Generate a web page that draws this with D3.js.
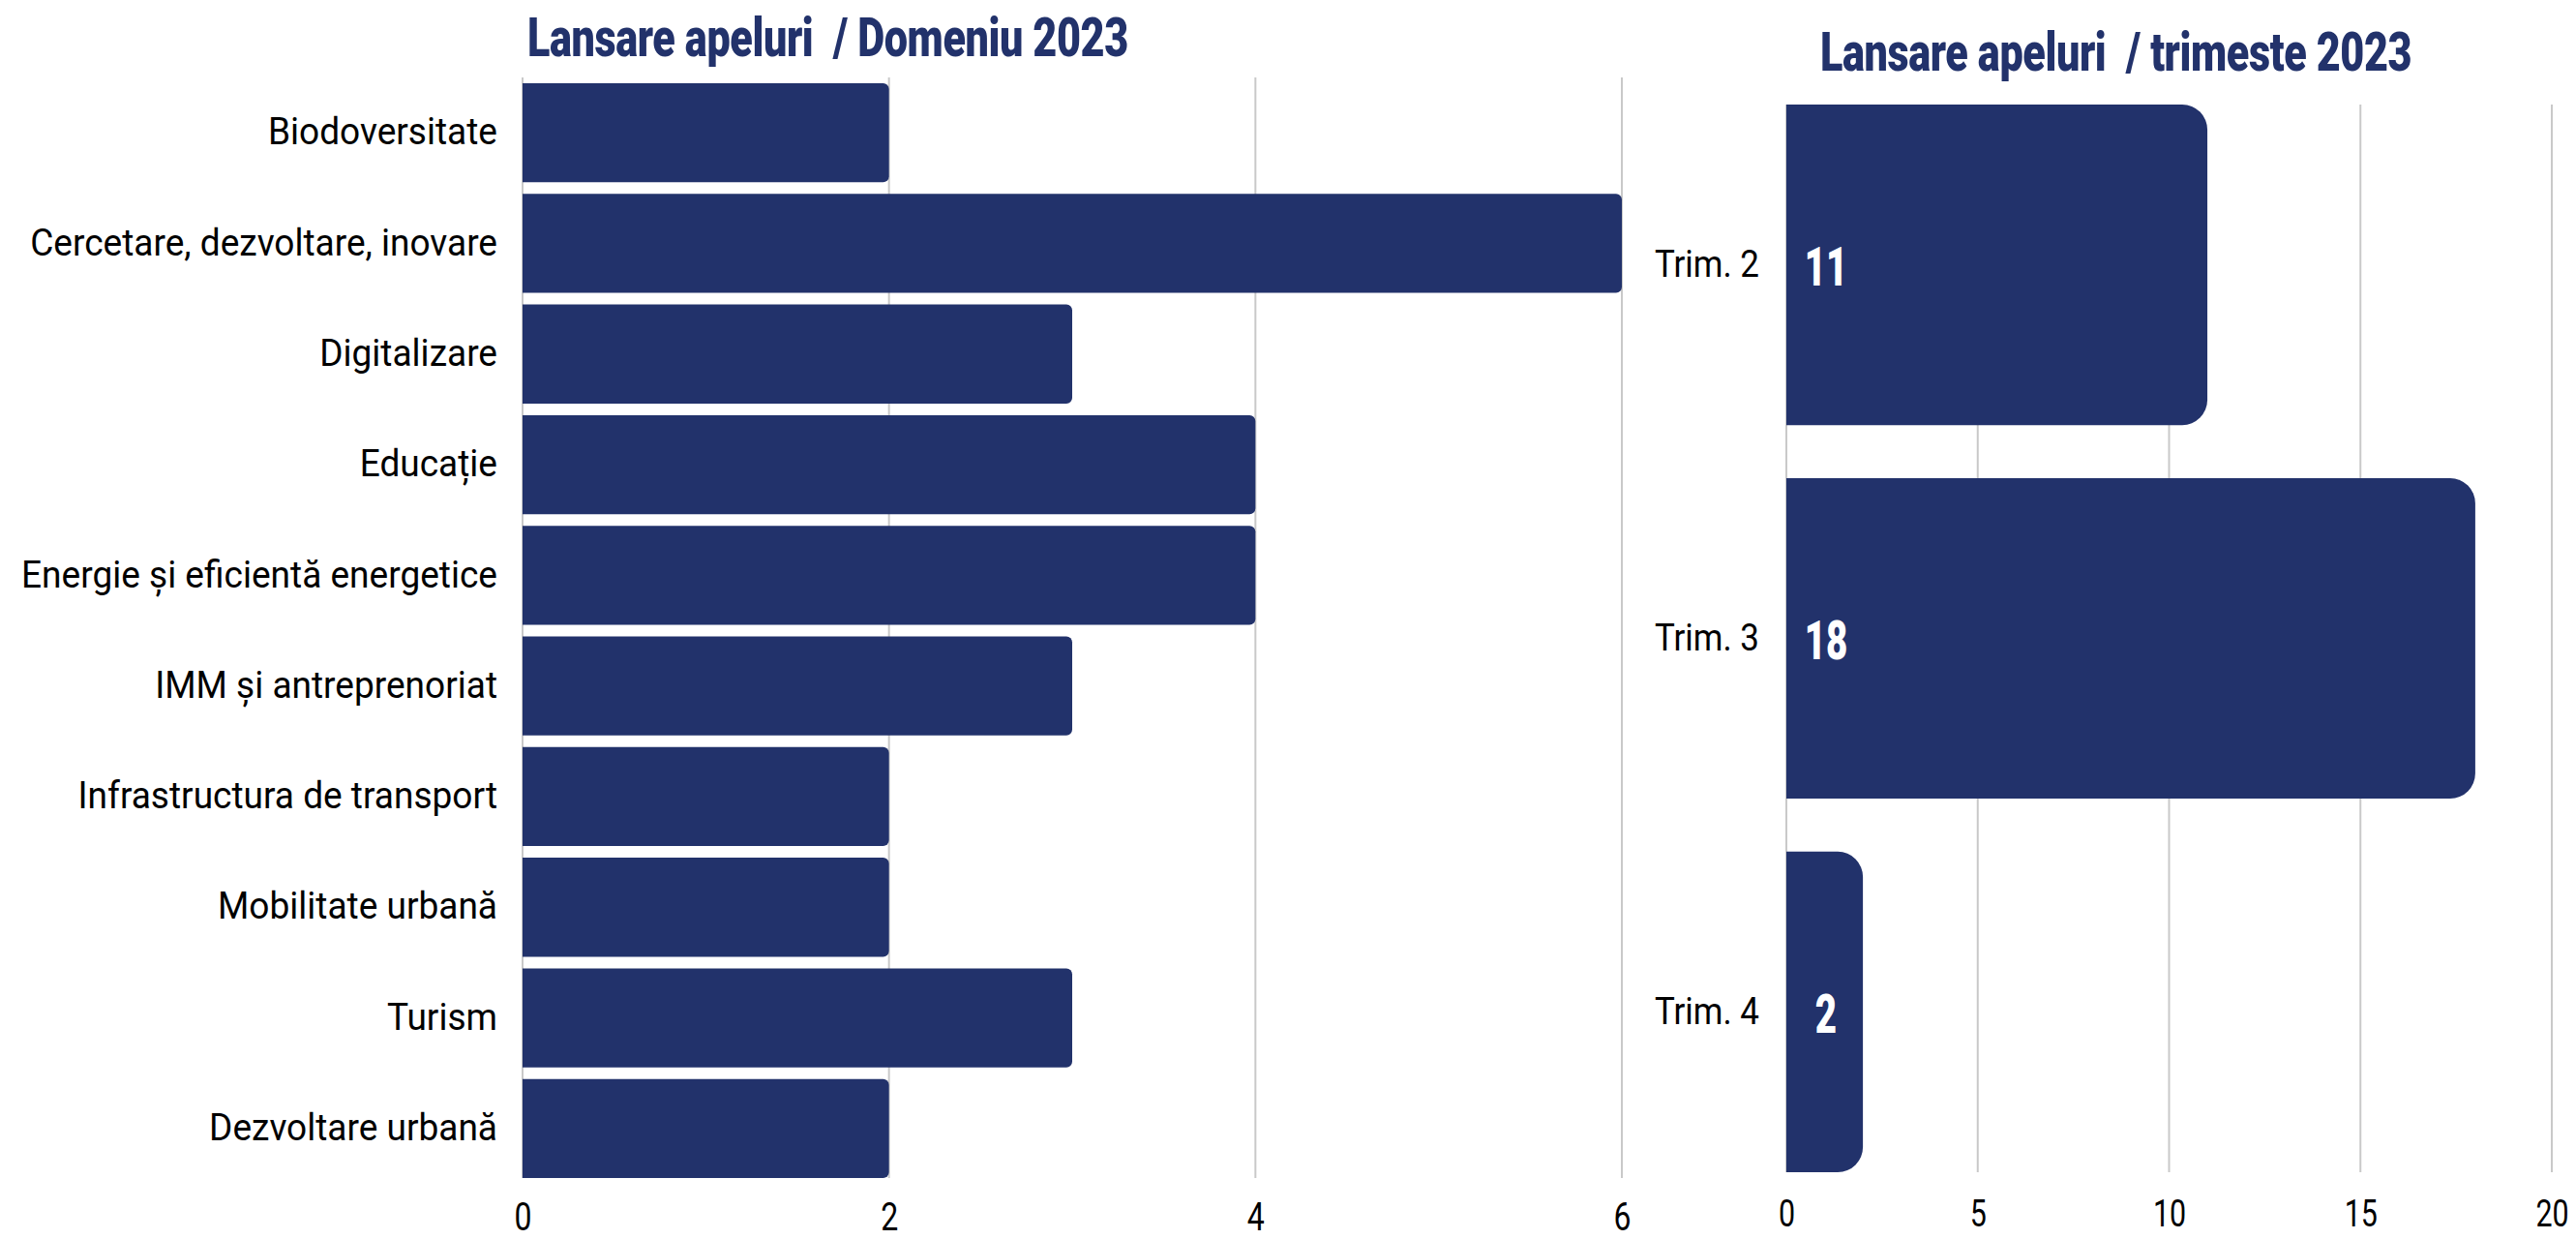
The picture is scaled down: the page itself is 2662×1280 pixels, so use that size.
<!DOCTYPE html>
<html>
<head>
<meta charset="utf-8">
<script src="https://cdn.jsdelivr.net/npm/d3@7"></script>
<style>
  html, body { margin: 0; padding: 0; background: #ffffff; }
  svg { display: block; }
  .lbl { font-family: "Roboto", "DejaVu Sans Condensed", sans-serif; fill: #000; }
  .ttl { font-family: "Roboto", "DejaVu Sans Condensed", sans-serif; font-weight: 900; fill: #22326b; white-space: pre; }
</style>
</head>
<body>
<script>
// Calls launched per domain, 2023
const domainNames = [
  "Biodoversitate",
  "Cercetare, dezvoltare, inovare",
  "Digitalizare",
  "Educație",
  "Energie și eficientă energetice",
  "IMM și antreprenoriat",
  "Infrastructura de transport",
  "Mobilitate urbană",
  "Turism",
  "Dezvoltare urbană"
];
const domainCounts = [2, 6, 3, 4, 4, 3, 2, 2, 3, 2];
const domainTicks = [0, 2, 4, 6];

// Calls launched per quarter, 2023
const quarterNames = ["Trim. 2", "Trim. 3", "Trim. 4"];
const quarterCounts = [11, 18, 2];
const quarterTicks = [0, 5, 10, 15, 20];

const titleLeft = "Lansare apeluri  / Domeniu 2023";
const titleRight = "Lansare apeluri  / trimeste 2023";

const W = 2662, H = 1280;
const NAVY = "#22326b";
const GRID = "#c9c9c9";

// horizontal squeeze applied to text, giving a condensed face
const TICK_SQ = 0.8, TITLE_SQ = 0.785, VALUE_SQ = 0.7;

const svg = d3.select("body").append("svg").attr("width", W).attr("height", H);

// bar with rounded right-hand corners
function barPath(x0, x1, y0, h, r) {
  r = Math.min(r, (x1 - x0), h / 2);
  return `M${x0},${y0}H${x1 - r}A${r},${r} 0 0 1 ${x1},${y0 + r}` +
         `V${y0 + h - r}A${r},${r} 0 0 1 ${x1 - r},${y0 + h}H${x0}Z`;
}

// squeeze an axis tick label horizontally, keeping its anchor point
function squeeze(sel, sx) {
  sel.each(function () {
    const t = d3.select(this);
    const x = +t.attr("x") || 0;
    t.attr("x", x / sx).attr("transform", `scale(${sx},1)`);
  });
}

function drawChart(opts) {
  const g = svg.append("g");
  const x = d3.scaleLinear().domain(opts.domain).range(opts.xRange);
  const y = d3.scaleBand().domain(opts.names).range(opts.yRange)
    .paddingInner(opts.padIn).paddingOuter(opts.padOut);
  const yEnd = y(opts.names[opts.names.length - 1]) + y.bandwidth();

  // vertical gridlines
  g.append("g").selectAll("line").data(opts.ticks).join("line")
    .attr("x1", d => x(d)).attr("x2", d => x(d))
    .attr("y1", opts.yRange[0]).attr("y2", yEnd)
    .attr("stroke", GRID).attr("stroke-width", 2);

  // bars
  g.append("g").selectAll("path").data(opts.values).join("path")
    .attr("d", (d, i) => barPath(x(0), x(d), y(opts.names[i]), y.bandwidth(), opts.radius))
    .attr("fill", NAVY);

  // category labels
  const axisY = d3.axisLeft(y).tickSize(0).tickPadding(opts.labelPad);
  const ay = g.append("g").attr("transform", `translate(${x(0)},0)`).call(axisY);
  ay.select(".domain").remove();
  ay.selectAll("text").attr("class", "lbl").attr("font-size", opts.labelSize)
    .attr("fill", "#000").call(squeeze, opts.labelSq);

  // value axis labels
  const axisX = d3.axisBottom(x).tickValues(opts.ticks).tickFormat(d3.format("d"))
    .tickSize(0).tickPadding(0);
  const ax = g.append("g").attr("transform", `translate(0,${opts.tickY})`).call(axisX);
  ax.select(".domain").remove();
  ax.selectAll("text").attr("class", "lbl").attr("font-size", opts.tickSize)
    .attr("fill", "#000").attr("dy", "0").call(squeeze, TICK_SQ);

  // title
  g.append("text").attr("class", "ttl")
    .attr("transform", `translate(${opts.titleX},${opts.titleY}) scale(${TITLE_SQ},1)`)
    .attr("font-size", opts.titleSize)
    .attr("letter-spacing", "-0.5")
    .text(opts.title);

  return { g, x, y };
}

drawChart({
  names: domainNames, values: domainCounts, ticks: domainTicks,
  domain: [0, 6], xRange: [540, 1676], yRange: [80, 1223],
  padIn: 0.105, padOut: 0.0525, radius: 6,
  labelPad: 26, labelSize: 38, labelSq: 0.975, tickSize: 40, tickY: 1271,
  title: titleLeft, titleX: 545, titleY: 58, titleSize: 55
});

const right = drawChart({
  names: quarterNames, values: quarterCounts, ticks: quarterTicks,
  domain: [0, 20], xRange: [1846, 2637], yRange: [108, 1211],
  padIn: 0.142, padOut: 0, radius: 26,
  labelPad: 28, labelSize: 38, labelSq: 0.92, tickSize: 38, tickY: 1267,
  title: titleRight, titleX: 1881, titleY: 73, titleSize: 55
});

// value labels inside the quarter bars
right.g.append("g").selectAll("text").data(quarterCounts).join("text")
  .attr("class", "ttl")
  .attr("transform", (d, i) =>
    `translate(${right.x(0) + 41},${right.y(quarterNames[i]) + right.y.bandwidth() / 2 + 2}) scale(${VALUE_SQ},1)`)
  .attr("dy", "0.36em")
  .attr("text-anchor", "middle")
  .attr("font-size", 55)
  .style("fill", "#ffffff")
  .text(d => d);
</script>
</body>
</html>
